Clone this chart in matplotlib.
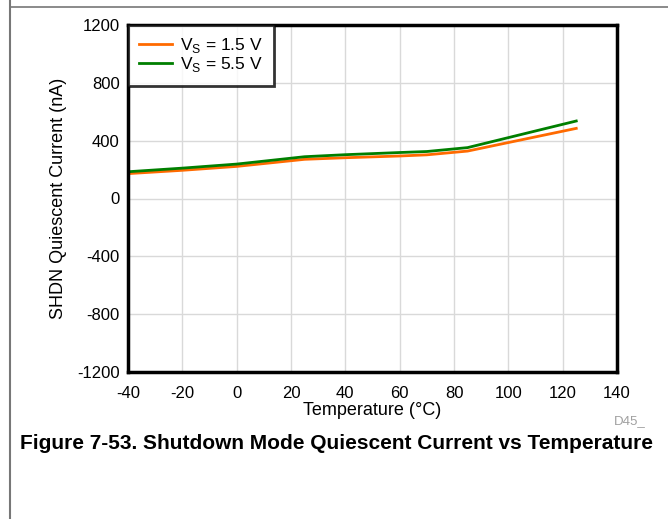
import numpy as np
import matplotlib
matplotlib.use("Agg")
import matplotlib.pyplot as plt
from matplotlib.lines import Line2D

plt.rcParams['font.family'] = ['Liberation Sans', 'DejaVu Sans']
plt.rcParams['axes.unicode_minus'] = False

# data
temp_c = [-40, -20, 0, 25, 40, 60, 70, 85, 100, 125]
iq_1v5 = [172, 195, 222, 271, 282, 294, 302, 328, 387, 485]
iq_5v5 = [185, 210, 238, 289, 303, 318, 325, 352, 421, 536]
x_ticks = [-40, -20, 0, 20, 40, 60, 80, 100, 120, 140]
y_ticks = [-1200, -800, -400, 0, 400, 800, 1200]

W, H = 668, 519
fig = plt.figure(figsize=(W / 100, H / 100), dpi=100)
ax = fig.add_axes([128 / W, 1 - 372 / H, (617 - 128) / W, (372 - 25) / H])

ax.plot(temp_c, iq_1v5, color="#FF6A00", lw=2, label="V$_\\mathregular{S}$ = 1.5 V")
ax.plot(temp_c, iq_5v5, color="#007F00", lw=2, label="V$_\\mathregular{S}$ = 5.5 V")

ax.set_xlim(-40, 140)
ax.set_ylim(-1200, 1200)
ax.set_xticks(x_ticks)
ax.set_yticks(y_ticks)
ax.grid(True, color="#D9D9D9", lw=1)
ax.set_axisbelow(True)
ax.tick_params(length=0, labelsize=12)
ax.tick_params(axis="x", pad=10)
ax.tick_params(axis="y", pad=6)
for sp in ax.spines.values():
    sp.set_linewidth(2.5)

ax.set_xlabel("Temperature (°C)", fontsize=13, labelpad=1)
ax.set_ylabel("SHDN Quiescent Current (nA)", fontsize=13, labelpad=7)

leg = ax.legend(loc="upper left", fontsize=12.5, frameon=True, fancybox=False,
                borderaxespad=0, handlelength=1.9, handletextpad=0.45,
                borderpad=0.65, labelspacing=0.0)
leg.get_frame().set_edgecolor("black")
leg.get_frame().set_linewidth(2)

fig.text(646 / W, 1 - 421 / H, "D45_", color="#A0A0A0", fontsize=9.5, ha="right", va="center")
fig.text(20 / W, 1 - 449 / H, "Figure 7-53. Shutdown Mode Quiescent Current vs Temperature",
         fontsize=15, fontweight="bold", ha="left", va="baseline")

# page frame lines
fig.add_artist(Line2D([10 / W, 1], [1 - 7 / H, 1 - 7 / H], color="#777777", lw=1.2))
fig.add_artist(Line2D([10 / W, 10 / W], [0, 1], color="#777777", lw=1.5))

fig.savefig("out.png", dpi=100)
